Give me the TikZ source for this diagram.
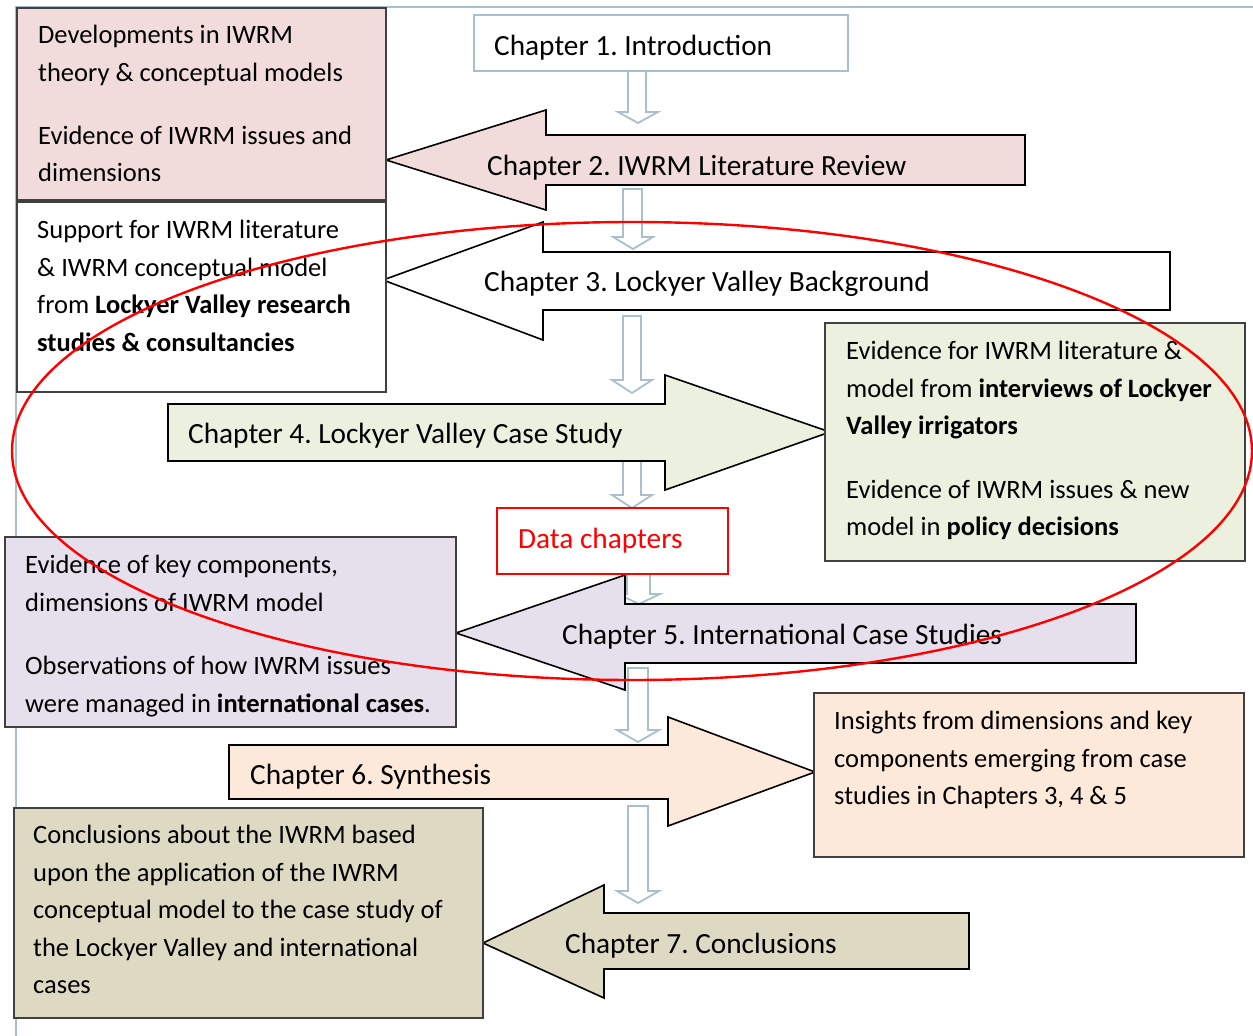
\documentclass[tikz,border=0pt]{standalone}
\usepackage{fontspec}
\setmainfont{Carlito}
\frenchspacing
\definecolor{flowblue}{HTML}{A9BFCC}
\definecolor{boxgray}{HTML}{404040}
\definecolor{pinkfill}{HTML}{F2DCDB}
\definecolor{greenfill}{HTML}{EBF1DE}
\definecolor{lilacfill}{HTML}{E5E0EC}
\definecolor{peachfill}{HTML}{FDE9D9}
\definecolor{olivefill}{HTML}{DDD9C3}
\definecolor{markred}{HTML}{FF0000}
\begin{document}
\frenchspacing
\begin{tikzpicture}[x=1pt,y=-1pt,
  chap/.style={anchor=base west, inner sep=0pt, font=\fontsize{29.3}{35}\selectfont},
  note/.style={anchor=north west, inner sep=0pt, align=left, font=\fontsize{26.5}{37.5}\selectfont},
  blockarrow/.style={draw=black, line width=1.6pt, line join=miter},
  sidebox/.style={draw=boxgray, line width=1.4pt},
  flow/.style={draw=flowblue, fill=white, line width=1.8pt, line join=miter}]
\useasboundingbox (0,0) rectangle (1253,1036);
\fill[white] (0,0) rectangle (1253,1036);

% page frame
\draw[flowblue, line width=2pt] (16,1036) -- (16,7) -- (1253,7);

% hollow down arrows between chapters: (left, right, top, head base, tip, head left, head right)
\newcommand\downflow[7]{\draw[flow] (#1,#3) -- (#2,#3) -- (#2,#4) -- (#7,#4) -- ({(#6+#7)/2},#5) -- (#6,#4) -- (#1,#4) -- cycle;}
\downflow{628}{646}{71}{112}{123}{618}{658}
\downflow{623}{642}{189}{237}{249}{613}{653}
\downflow{623}{641}{316}{380}{393}{612}{652}
\downflow{623}{641}{461}{495}{508}{612}{652}
\downflow{627}{650}{574}{594}{604}{618}{660}
\downflow{628}{648}{668}{730}{742}{617}{659}
\downflow{628}{648}{806}{891}{903}{617}{659}

% chapter block arrows
\draw[blockarrow, fill=pinkfill] (386,160) -- (546,110) -- (546,135) -- (1025,135) -- (1025,185) -- (546,185) -- (546,210) -- cycle;
\draw[blockarrow, fill=white] (383,280) -- (543,222) -- (543,252) -- (1170,252) -- (1170,310) -- (543,310) -- (543,340) -- cycle;
\draw[blockarrow, fill=greenfill] (168,404) -- (665,404) -- (665,375) -- (830,432) -- (665,490) -- (665,461) -- (168,461) -- cycle;
\draw[blockarrow, fill=lilacfill] (456,633) -- (625,575) -- (625,604) -- (1136,604) -- (1136,663) -- (625,663) -- (625,690) -- cycle;
\draw[blockarrow, fill=peachfill] (229,745) -- (668,745) -- (668,717) -- (815,772) -- (668,826) -- (668,799) -- (229,799) -- cycle;
\draw[blockarrow, fill=olivefill] (483,943) -- (604,885) -- (604,913) -- (969,913) -- (969,969) -- (604,969) -- (604,998) -- cycle;

% side boxes
\draw[sidebox, fill=pinkfill] (17,8) rectangle (386,200);
\draw[sidebox, fill=white] (17,202) rectangle (386,392);
\draw[sidebox, fill=greenfill] (825,323) rectangle (1245,561);
\draw[sidebox, fill=lilacfill] (5,537) rectangle (456,727);
\draw[sidebox, fill=peachfill] (814,693) rectangle (1244,857);
\draw[sidebox, fill=olivefill] (14,808) rectangle (483,1018);

% title boxes
\draw[flowblue, fill=white, line width=1.8pt] (474,15) rectangle (848,71);
\draw[markred, fill=white, line width=1.4pt] (497,508) rectangle (728,574);

% chapter labels
\node[chap] (ch1) at (494,55) {Chapter 1. Introduction};
\node[chap] (ch2) at (487,175) {Chapter 2. IWRM Literature Review};
\node[chap] (ch3) at (484,291) {Chapter 3. Lockyer Valley Background};
\node[chap] (ch4) at (188,443) {Chapter 4. Lockyer Valley Case Study};
\node[chap, text=markred] (data) at (518,548) {Data chapters};
\node[chap] (ch5) at (562,644) {Chapter 5. International Case Studies};
\node[chap] (ch6) at (250,784) {Chapter 6. Synthesis};
\node[chap] (ch7) at (565,953) {Chapter 7. Conclusions};

% box texts
\node[note] (lit) at (38,17.3) {\strut Developments in IWRM\\ theory \& conceptual models\\[25.5pt] Evidence of IWRM issues and\\ dimensions};
\node[note] (bg) at (37,212.3) {\strut Support for IWRM literature\\ \& IWRM conceptual model\\ from \textbf{Lockyer Valley research}\\ \textbf{studies \& consultancies}};
\node[note] (cs) at (846,333.3) {\strut Evidence for IWRM literature \&\\ model from \textbf{interviews of Lockyer}\\ \textbf{Valley irrigators}\\[26pt] Evidence of IWRM issues \& new\\ model in \textbf{policy decisions}};
\node[note] (intl) at (25,547.3) {\strut Evidence of key components,\\ dimensions of IWRM model\\[26pt] Observations of how IWRM issues\\ were managed in \textbf{international cases}.};
\node[note] (syn) at (834,703.3) {\strut Insights from dimensions and key\\ components emerging from case\\ studies in Chapters 3, 4 \& 5};
\node[note] (concl) at (33,817.3) {\strut Conclusions about the IWRM based\\ upon the application of the IWRM\\ conceptual model to the case study of\\ the Lockyer Valley and international\\ cases};

% ring round the data chapters
\draw[markred, line width=2.4pt] (632,451) ellipse [x radius=620, y radius=229];
\end{tikzpicture}
\end{document}
